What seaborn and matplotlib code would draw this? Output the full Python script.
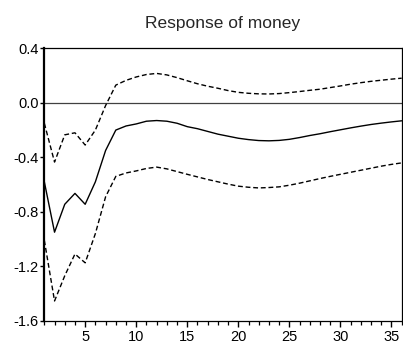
import matplotlib
matplotlib.use("Agg")
import matplotlib.pyplot as plt
import seaborn as sns
import pandas as pd
from matplotlib.ticker import FormatStrFormatter

periods = list(range(1, 37))

response = [-0.58, -0.95, -0.745, -0.665, -0.745, -0.58, -0.35, -0.20, -0.17, -0.155,
            -0.135, -0.13, -0.135, -0.15, -0.175, -0.19, -0.21, -0.23, -0.245, -0.26,
            -0.27, -0.277, -0.279, -0.276, -0.268, -0.255, -0.24, -0.227, -0.212, -0.198,
            -0.184, -0.171, -0.159, -0.149, -0.14, -0.132]

upper_band = [-0.15, -0.435, -0.235, -0.22, -0.31, -0.20, -0.02, 0.13, 0.165, 0.19,
              0.208, 0.216, 0.205, 0.185, 0.162, 0.14, 0.122, 0.107, 0.09, 0.077,
              0.07, 0.066, 0.065, 0.068, 0.075, 0.083, 0.092, 0.10, 0.112, 0.124,
              0.137, 0.148, 0.158, 0.166, 0.174, 0.181]

lower_band = [-1.01, -1.455, -1.27, -1.11, -1.175, -0.96, -0.69, -0.54, -0.515, -0.50,
              -0.482, -0.472, -0.485, -0.505, -0.525, -0.544, -0.563, -0.58, -0.597, -0.612,
              -0.62, -0.625, -0.622, -0.617, -0.605, -0.59, -0.573, -0.556, -0.54, -0.525,
              -0.51, -0.495, -0.48, -0.465, -0.452, -0.441]

y_ticks = [0.4, 0.0, -0.4, -0.8, -1.2, -1.6]
x_ticks = [5, 10, 15, 20, 25, 30, 35]

df = pd.DataFrame({"period": periods, "response": response,
                   "upper": upper_band, "lower": lower_band})

sns.set_style("ticks")
plt.rcParams["font.family"] = ["Liberation Sans", "DejaVu Sans"]

fig = plt.figure(figsize=(4.03, 3.43), dpi=100)
ax = fig.add_axes([0.11, 0.065, 0.8868, 0.794])

ax.axhline(0.0, color="#404040", linewidth=0.9, zorder=1)
sns.lineplot(data=df, x="period", y="response", ax=ax, color="black", linewidth=1.0)
sns.lineplot(data=df, x="period", y="upper", ax=ax, color="black", linewidth=1.0,
             linestyle=(0, (3.5, 2)))
sns.lineplot(data=df, x="period", y="lower", ax=ax, color="black", linewidth=1.0,
             linestyle=(0, (3.5, 2)))

ax.set_xlim(1, 36)
ax.set_ylim(-1.6, 0.4)
ax.set_yticks(y_ticks)
ax.yaxis.set_major_formatter(FormatStrFormatter("%.1f"))
ax.set_xticks(x_ticks)
ax.set_xticks(periods, minor=True)
ax.tick_params(axis="y", which="major", direction="out", length=3, width=1.0,
               labelsize=10.5, pad=1, colors="black")
ax.tick_params(axis="x", which="major", direction="out", length=4, width=1.0,
               labelsize=10.5, pad=2.5, colors="black")
ax.tick_params(axis="x", which="minor", direction="out", length=3, width=0.9,
               colors="black", bottom=True)
ax.set_xlabel("")
ax.set_ylabel("")
ax.set_title("Response of money", fontsize=12.5, pad=15)

for side in ["top", "right", "bottom"]:
    ax.spines[side].set_visible(True)
    ax.spines[side].set_linewidth(0.9)
    ax.spines[side].set_color("black")
ax.spines["left"].set_linewidth(1.6)
ax.spines["left"].set_color("black")

fig.savefig("out.png", dpi=100)
